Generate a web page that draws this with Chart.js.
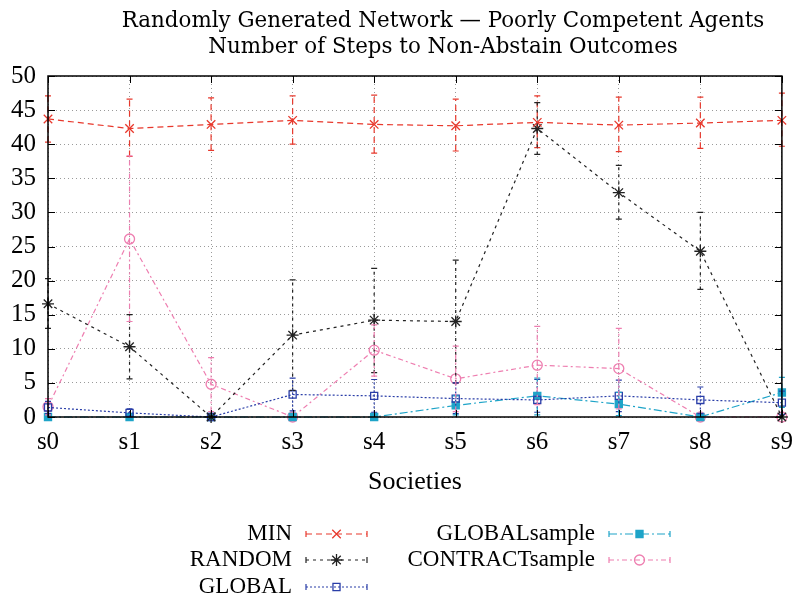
<!DOCTYPE html>
<html>
<head>
<meta charset="utf-8">
<script src="https://cdn.jsdelivr.net/npm/chart.js@4.4.1/dist/chart.umd.min.js"></script>
<style>
html,body{margin:0;padding:0;background:#fff;}
#wrap{width:803px;height:602px;position:relative;}
</style>
</head>
<body>
<div id="wrap"><canvas id="c" width="803" height="602"></canvas></div>
<script>
// ---- data ----
const categories = ['s0','s1','s2','s3','s4','s5','s6','s7','s8','s9'];
const yTicks = [0,5,10,15,20,25,30,35,40,45,50];
const titleLines = ['Randomly Generated Network \u2014 Poorly Competent Agents', 'Number of Steps to Non-Abstain Outcomes'];
const xTitle = 'Societies';

const minVals  = [43.7, 42.3, 42.9, 43.5, 42.9, 42.7, 43.2, 42.8, 43.1, 43.5];
const minLo    = [40.3, 38.2, 39.1, 40.0, 38.7, 39.0, 39.5, 38.9, 39.4, 39.7];
const minHi    = [47.1, 46.6, 46.8, 47.1, 47.2, 46.6, 47.1, 46.9, 46.9, 47.5];

const randomVals = [16.6, 10.3, 0.0, 12.0, 14.2, 14.0, 42.3, 32.9, 24.3, 0.0];
const randomLo   = [13.0, 5.6, 0.0, 3.9, 6.5, 5.0, 38.5, 29.0, 18.7, 0.0];
const randomHi   = [20.3, 15.0, 0.0, 20.1, 21.8, 23.0, 46.1, 36.9, 30.0, 0.0];

const globalVals = [1.4, 0.6, 0.0, 3.3, 3.1, 2.7, 2.5, 3.1, 2.5, 2.1];
const globalLo   = [0.5, 0.0, 0.0, 0.9, 0.7, 0.5, 0.7, 0.8, 0.5, 0.4];
const globalHi   = [2.3, 1.2, 0.0, 5.7, 5.5, 5.0, 5.5, 5.4, 4.4, 3.8];

const globalSampleVals = [0.0, 0.0, 0.0, 0.0, 0.0, 1.7, 3.1, 1.9, 0.0, 3.6];
const globalSampleLo   = [0.0, 0.0, 0.0, 0.0, 0.0, 0.3, 0.3, 0.2, 0.0, 1.4];
const globalSampleHi   = [0.0, 0.0, 0.0, 0.0, 0.0, 3.1, 5.7, 3.6, 0.0, 5.8];

const contractVals = [1.5, 26.1, 4.8, 0.0, 9.8, 5.6, 7.6, 7.1, 0.0, 0.0];
const contractLo   = [0.3, 14.0, 0.8, 0.0, 6.0, 0.8, 1.8, 1.2, 0.0, 0.0];
const contractHi   = [2.7, 38.3, 8.7, 0.0, 13.5, 10.4, 13.3, 13.0, 0.0, 0.0];

const FONT = "'Liberation Serif', 'DejaVu Serif', serif";
const TFONT = "'DejaVu Serif', serif";
const NONE = 'rgba(0,0,0,0)';

function ds(label, data, lo, hi, color, dash, pointStyle, filled, radius) {
  return {
    label, data, errLo: lo, errHi: hi, filled,
    borderColor: color, backgroundColor: filled ? color : NONE,
    borderWidth: 1.2, borderDash: dash,
    pointStyle, pointRadius: radius, pointBorderWidth: 1.3,
    pointBackgroundColor: filled ? color : NONE,
    pointBorderColor: color, tension: 0, fill: false, clip: false
  };
}

const datasets = [
  ds('MIN', minVals, minLo, minHi, '#e8382c', [6,4], 'crossRot', false, 6),
  ds('RANDOM', randomVals, randomLo, randomHi, '#222222', [3,4], 'star', false, 6),
  ds('GLOBAL', globalVals, globalLo, globalHi, '#2a3ea8', [2,2], 'rect', false, 5),
  ds('GLOBALsample', globalSampleVals, globalSampleLo, globalSampleHi, '#1ea4c8', [8,3,2,3], 'rect', true, 5),
  ds('CONTRACTsample', contractVals, contractLo, contractHi, '#ee7eb0', [5,3,2,3], 'circle', false, 5)
];

const errorBars = {
  id: 'errorBars',
  afterDatasetsDraw(chart) {
    const ctx = chart.ctx, ys = chart.scales.y;
    chart.data.datasets.forEach((d, i) => {
      const meta = chart.getDatasetMeta(i);
      ctx.save();
      ctx.strokeStyle = d.borderColor;
      ctx.lineWidth = 1.2;
      meta.data.forEach((pt, j) => {
        const lo = d.errLo[j], hi = d.errHi[j];
        if (lo === hi) return;
        const x = pt.x, y1 = ys.getPixelForValue(lo), y2 = ys.getPixelForValue(hi);
        ctx.setLineDash(d.borderDash);
        ctx.beginPath(); ctx.moveTo(x, y1); ctx.lineTo(x, y2); ctx.stroke();
        ctx.setLineDash([]);
        ctx.beginPath();
        ctx.moveTo(x - 3, y1); ctx.lineTo(x + 3, y1);
        ctx.moveTo(x - 3, y2); ctx.lineTo(x + 3, y2);
        ctx.stroke();
      });
      ctx.restore();
    });
  }
};

const frame = {
  id: 'frame',
  afterDraw(chart) {
    const ctx = chart.ctx, a = chart.chartArea;
    const xs = chart.scales.x, ys = chart.scales.y;
    ctx.save();
    // title
    ctx.fillStyle = '#000';
    ctx.font = '21.4px ' + TFONT;
    ctx.textAlign = 'center'; ctx.textBaseline = 'alphabetic';
    ctx.fillText(titleLines[0], 443, 27);
    ctx.fillText(titleLines[1], 443, 53);
    // inward ticks
    ctx.strokeStyle = '#000'; ctx.lineWidth = 1;
    ctx.setLineDash([]);
    ctx.beginPath();
    yTicks.forEach(v => {
      const y = Math.round(ys.getPixelForValue(v)) + 0.5;
      ctx.moveTo(a.left, y); ctx.lineTo(a.left + 7, y);
      ctx.moveTo(a.right, y); ctx.lineTo(a.right - 7, y);
    });
    categories.forEach((c, i) => {
      const x = Math.round(xs.getPixelForValue(i)) + 0.5;
      ctx.moveTo(x, a.bottom); ctx.lineTo(x, a.bottom - 7);
      ctx.moveTo(x, a.top); ctx.lineTo(x, a.top + 7);
    });
    ctx.stroke();
    ctx.lineWidth = 1.5;
    ctx.strokeRect(a.left, a.top, a.right - a.left, a.bottom - a.top);
    ctx.restore();

    // legend
    const cols = [{tx: 292, x1: 306, x2: 367}, {tx: 595, x1: 609, x2: 670}];
    const rows = [534, 560, 587];
    const place = [[0,0],[0,1],[0,2],[1,0],[1,1]];
    ctx.save();
    chart.data.datasets.forEach((d, i) => {
      const [c, r] = place[i];
      const col = cols[c], y = rows[r];
      ctx.font = '23px ' + FONT;
      ctx.fillStyle = '#000';
      ctx.textAlign = 'right'; ctx.textBaseline = 'middle';
      ctx.fillText(d.label, col.tx, y);
      ctx.strokeStyle = d.borderColor; ctx.lineWidth = 1.2;
      ctx.setLineDash(d.borderDash);
      ctx.beginPath(); ctx.moveTo(col.x1, y); ctx.lineTo(col.x2, y); ctx.stroke();
      ctx.setLineDash([]);
      ctx.beginPath();
      ctx.moveTo(col.x1, y - 3); ctx.lineTo(col.x1, y + 3);
      ctx.moveTo(col.x2, y - 3); ctx.lineTo(col.x2, y + 3);
      ctx.stroke();
      ctx.lineWidth = 1.3;
      ctx.fillStyle = d.filled ? d.borderColor : NONE;
      Chart.helpers.drawPoint(ctx, {pointStyle: d.pointStyle, radius: d.pointRadius, rotation: 0, borderWidth: 1.3}, (col.x1 + col.x2) / 2, y);
    });
    ctx.restore();
  }
};

new Chart(document.getElementById('c'), {
  type: 'line',
  data: { labels: categories, datasets },
  plugins: [errorBars, frame],
  options: {
    responsive: false, animation: false, devicePixelRatio: 1,
    layout: { padding: { top: 76, right: 13, bottom: 0, left: 0 } },
    plugins: {
      legend: { display: false },
      tooltip: { enabled: false },
      title: { display: false }
    },
    scales: {
      x: {
        type: 'category',
        offset: false,
        grid: { display: true, color: '#9a9a9a', drawTicks: false },
        border: { display: false, dash: [1,3] },
        ticks: { color: '#000', font: { family: FONT, size: 25 }, padding: 10, maxRotation: 0, autoSkip: false },
        title: { display: true, text: xTitle, color: '#000', font: { family: FONT, size: 26 }, padding: { top: 0, bottom: 104 } },
        afterFit(s) { s.height = 185; }
      },
      y: {
        min: 0, max: 50,
        afterBuildTicks(s) { s.ticks = yTicks.map(v => ({ value: v })); },
        grid: { display: true, color: '#9a9a9a', drawTicks: false },
        border: { display: false, dash: [1,3] },
        ticks: { color: '#000', font: { family: FONT, size: 25 }, padding: 12 },
        afterFit(s) { s.width = 48; }
      }
    }
  }
});
</script>
</body>
</html>
